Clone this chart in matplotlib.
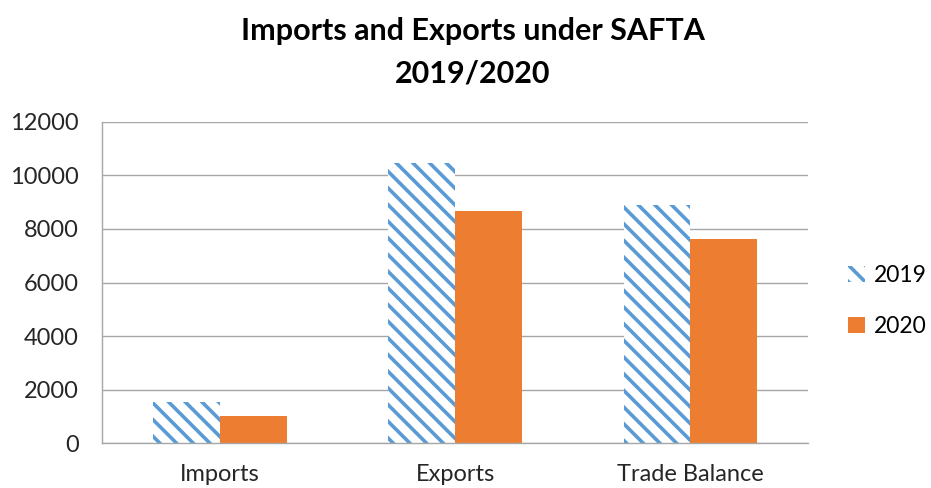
import matplotlib
matplotlib.use("Agg")
import matplotlib.pyplot as plt
import numpy as np

categories = ["Imports", "Exports", "Trade Balance"]
years = ["2019", "2020"]
values_2019 = [1550, 10450, 8900]
values_2020 = [1010, 8680, 7640]

plt.rcParams["font.family"] = ["Lato", "DejaVu Sans"]
plt.rcParams["hatch.linewidth"] = 2.6

fig = plt.figure(figsize=(9.31, 4.88), dpi=100)
ax = fig.add_axes([0.110, 0.0916, 0.758, 0.659])

x = np.arange(len(categories))
w = 0.284
ax.bar(x - w / 2, values_2019, w, color="white", edgecolor="#5B9BD5", linewidth=0,
       hatch="\\\\", label=years[0])
ax.bar(x + w / 2, values_2020, w, color="#ED7D31", edgecolor="none", label=years[1])

ax.set_xlim(-0.5, 2.5)
ax.set_ylim(0, 12000)
ax.set_yticks(range(0, 12001, 2000))
ax.set_xticks(x)
ax.set_xticklabels(categories)
ax.yaxis.grid(True, color="#A6A6A6", linewidth=1)
ax.set_axisbelow(True)
for s in ["top", "right"]:
    ax.spines[s].set_visible(False)
for s in ["left", "bottom"]:
    ax.spines[s].set_color("#A6A6A6")
    ax.spines[s].set_linewidth(1)
ax.tick_params(axis="both", length=0, labelsize=17, colors="#262626")
ax.tick_params(axis="y", pad=17)
ax.tick_params(axis="x", pad=15)

fig.text(0.508, 0.893, "Imports and Exports under SAFTA\n2019/2020", ha="center", va="center",
         fontsize=22, fontweight="bold", linespacing=1.6)

ax.legend(loc="center left", bbox_to_anchor=(1.028, 0.442), frameon=False, fontsize=16.5,
          handlelength=0.7, handleheight=0.7, handletextpad=0.4, labelspacing=1.3)

fig.savefig("out.png", dpi=100)
